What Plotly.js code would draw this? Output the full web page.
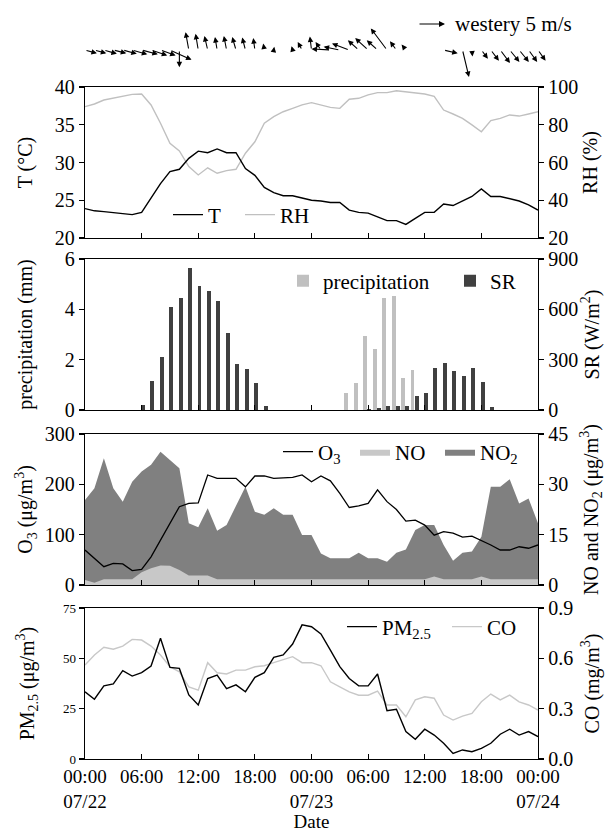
<!DOCTYPE html>
<html>
<head>
<meta charset="utf-8">
<script src="https://cdn.plot.ly/plotly-3.0.1.min.js"></script>
<style>html,body{margin:0;padding:0;background:#fff;}#chart{width:609px;height:832px;}</style>
</head>
<body>
<div id="chart"></div>
<script>
// ---------------- data (hourly, 00:00 07/22 .. 00:00 07/24) ----------------
const hours = [0,1,2,3,4,5,6,7,8,9,10,11,12,13,14,15,16,17,18,19,20,21,22,23,24,
               25,26,27,28,29,30,31,32,33,34,35,36,37,38,39,40,41,42,43,44,45,46,47,48];
const tickHours = [0,6,12,18,24,30,36,42,48];
const tickText = ['00:00<br>07/22','06:00','12:00','18:00','00:00<br>07/23','06:00','12:00','18:00','00:00<br>07/24'];

const T  = [23.9,23.6,23.5,23.35,23.2,23.1,23.4,25.3,27.2,28.8,29.1,30.55,31.5,31.3,31.8,31.3,31.3,29.2,28.3,26.7,26.0,25.6,25.6,25.3,25.0,
            24.9,24.7,24.7,23.7,23.4,23.3,22.8,22.3,22.3,21.8,22.6,23.4,23.4,24.5,24.3,24.9,25.5,26.5,25.5,25.5,25.2,24.9,24.4,23.7];
const RH = [89.6,91,93.1,94,95.2,96.1,96.3,90.5,80.8,70.2,66.1,57.8,53.4,57.2,54.3,55.7,56.4,64.9,71,80.8,84.3,86.9,88.7,90.5,91.7,
            90.5,89.2,88.7,93.5,94,95.8,97,97,98,97.5,97,96.3,95,87.8,85.7,83.4,79.9,76.3,82.2,83.4,85.2,84.6,85.7,86.9];

const precip = [0,0,0,0,0,0,0,0,0,0,0,0,0,0,0,0,0,0,0,0,0,0,0,0,0,
                0,0,0,0.67,1.09,2.96,2.41,4.45,4.54,1.29,1.59,0,0,0,0,0,0,0,0,0,0,0,0,0];
const SR = [0,0,0,0,0,0,30,170,318,614,665,845,740,712,647,460,272,247,158,22,0,0,0,0,0,
            0,0,0,0,0,5,10,22,22,25,81,100,253,278,233,200,249,168,16,0,0,0,0,0];

const O3  = [69.5,53,36.4,43,42,28.5,31,56,89,122.6,155.6,162,163,218.6,212,212,212,195,216.6,216.6,212,213,214,218.6,205,
             216.6,207,182,154,157,162,189,165.6,150,127,129,119,99,106,103,95,97,89,79.5,69.5,69.5,76,73,79.5];
const NO  = [1.5,0.7,1.7,1.7,1.7,1.7,3.8,5.0,5.8,5.7,4.5,2.8,2.8,2.8,1.7,1.7,1.7,1.7,1.7,1.7,1.7,1.7,1.7,1.7,1.7,
             1.7,1.7,1.7,1.7,1.7,1.7,1.7,1.7,1.7,1.7,1.7,1.7,2.5,1.7,1.7,1.7,1.7,2.5,1.7,1.7,1.7,1.7,1.7,1.7];
const NO2 = [25.3,28.8,37.8,28.8,24.8,30.8,33.8,35.8,39.7,37.2,34.8,18.4,17.2,22.9,16.2,17.9,23.8,29.3,21.8,20.9,22.9,20.9,20.9,14.9,14.9,
             9.4,8.0,8.0,8.0,9.6,8.0,8.0,6.9,9.6,10.6,16.4,17.9,17.9,11.9,7.2,9.6,10.0,14.4,29.3,29.3,31.5,24.3,25.8,18.4];

const PM25 = [33.4,29.7,36.3,37.3,43.9,41.2,42.9,46.2,60,45.5,45,31.8,26.8,40,41.7,35,36.8,33.4,40.6,42.9,50.5,51.7,57.1,66.6,65.7,
              62.1,54.1,45.9,40,36.3,36.3,42.2,24,24.7,13.6,9.8,14.8,11.9,7.8,2.8,4.5,3.6,5.3,7.8,12.3,14.8,11.9,13.6,11.1];
const CO   = [0.56,0.62,0.666,0.654,0.673,0.713,0.709,0.673,0.62,0.55,0.52,0.43,0.41,0.574,0.514,0.507,0.53,0.53,0.55,0.556,0.574,0.594,0.61,0.574,0.574,
              0.556,0.46,0.43,0.40,0.38,0.38,0.405,0.322,0.322,0.252,0.352,0.371,0.362,0.262,0.232,0.256,0.272,0.341,0.387,0.352,0.381,0.341,0.322,0.292];

// wind components (m/s): u eastward, v northward
const windU = [2.2,2.2,2.4,2.4,2.6,2.8,3.0,3.0,2.8,4.0,0.0,-0.6,-0.5,-0.6,-0.4,-0.5,-0.7,-0.6,-0.3,-0.2,0.1,0.1,-0.2,-0.8,-0.3,
               -1.0,-3.5,-3.0,-3.2,-2.0,-2.4,-2.0,-3.0,-1.2,-0.8,-0.2,0.1,0.1,2.6,0.3,1.2,0.1,1.2,1.5,1.8,1.8,1.8,1.6,1.4];
const windV = [-0.6,-0.6,-0.7,-0.6,-0.7,-0.8,-0.8,-1.0,-1.0,-1.8,-3.2,3.3,3.0,2.6,2.4,2.6,2.4,2.3,2.2,1.2,0.6,0.5,0.7,1.5,2.5,
               1.5,0.2,0.6,1.2,1.8,2.2,1.8,4.0,1.6,1.0,0.5,-0.4,-0.5,-0.6,-0.5,-5.0,-1.2,-1.6,-2.0,-2.4,-2.2,-2.2,-2.2,-2.0];
const windRefSpeed = 5;

// ---------------- styling ----------------
const FONT = 'Liberation Serif, Times New Roman, serif';
const PX_PER_MS = 5.4;
const H = 759; // paper height in px (832 - bottom margin)
const dom = (top, bottom) => [(H - bottom) / H, (H - top) / H];
const D1 = dom(87, 238), D2 = dom(259, 410), D3 = dom(434, 585), D4 = dom(608, 759);
const windBaseY = (H - 50) / H;

const yBase = {showgrid:false, zeroline:false, showline:true, linecolor:'#000', linewidth:1.3,
  ticks:'outside', ticklen:5, tickwidth:1.2, tickcolor:'#000',
  tickfont:{family:FONT, size:20, color:'#000'}, fixedrange:true};
const xBase = {showgrid:false, zeroline:false, showline:true, mirror:true, linecolor:'#000', linewidth:1.3,
  ticks:'inside', ticklen:5, tickwidth:1.2, tickcolor:'#000', range:[0,48], tickmode:'array',
  tickvals:tickHours, ticktext:tickText, tickfont:{family:FONT, size:19, color:'#000'}, fixedrange:true};
const tf = (t, s) => ({text:t, font:{family:FONT, size:20, color:'#000'}, standoff:s});

const traces = [
  // panel 1
  {x:hours, y:RH, type:'scatter', mode:'lines', name:'RH', xaxis:'x', yaxis:'y', line:{color:'#c0c0c0', width:1.4}, legend:'legend', legendrank:2},
  {x:hours, y:T, type:'scatter', mode:'lines', name:'T', xaxis:'x', yaxis:'y2', line:{color:'#000', width:1.4}, legend:'legend', legendrank:1, legendwidth:27},
  // panel 2
  {x:hours, y:precip, type:'bar', name:'precipitation', xaxis:'x2', yaxis:'y3', marker:{color:'#c0c0c0', line:{width:0}}, width:0.42, offset:-0.51, legend:'legend2', legendrank:1, legendwidth:122},
  {x:hours, y:SR, type:'bar', name:'SR', xaxis:'x2', yaxis:'y4', marker:{color:'#404040', line:{width:0}}, width:0.42, offset:-0.08, legend:'legend2', legendrank:2},
  // panel 3
  {x:hours, y:NO2, type:'scatter', mode:'lines', fill:'tozeroy', name:'NO<sub>2</sub>', xaxis:'x3', yaxis:'y5', line:{width:0, color:'#808080'}, fillcolor:'#808080', legend:'legend3', legendrank:3},
  {x:hours, y:NO, type:'scatter', mode:'lines', fill:'tozeroy', name:'NO', xaxis:'x3', yaxis:'y5', line:{width:0, color:'#c8c8c8'}, fillcolor:'#c8c8c8', legend:'legend3', legendrank:2, legendwidth:40},
  {x:hours, y:O3, type:'scatter', mode:'lines', name:'O<sub>3</sub>', xaxis:'x3', yaxis:'y6', line:{color:'#000', width:1.3}, legend:'legend3', legendrank:1, legendwidth:32},
  // panel 4
  {x:hours, y:CO, type:'scatter', mode:'lines', name:'CO', xaxis:'x4', yaxis:'y7', line:{color:'#c8c8c8', width:1.4}, legend:'legend4', legendrank:2},
  {x:hours, y:PM25, type:'scatter', mode:'lines', name:'PM<sub>2.5</sub>', xaxis:'x4', yaxis:'y8', line:{color:'#000', width:1.4}, legend:'legend4', legendrank:1, legendwidth:60}
];

// wind arrows: tail sits at the hour, head points along (u, v)
const annotations = hours.map((h, i) => ({
  xref:'x', yref:'paper', x:h, y:windBaseY,
  xshift: windU[i] * PX_PER_MS, yshift: windV[i] * PX_PER_MS,
  ax: -windU[i] * PX_PER_MS, ay: windV[i] * PX_PER_MS, axref:'pixel', ayref:'pixel',
  text:'', showarrow:true, arrowhead:2, arrowsize:1.0, arrowwidth:1.1, arrowcolor:'#000', standoff:0, startstandoff:0
}));
const refY = (H - 24) / H;
annotations.push({xref:'paper', yref:'paper', x:(418 - 85) / 453, y:refY,
  xshift: windRefSpeed * PX_PER_MS, ax: -windRefSpeed * PX_PER_MS, ay:0, axref:'pixel', ayref:'pixel',
  text:'', showarrow:true, arrowhead:2, arrowsize:1.0, arrowwidth:1.2, arrowcolor:'#000', standoff:0, startstandoff:0});
annotations.push({xref:'paper', yref:'paper', x:(453 - 85) / 453, y:refY, xanchor:'left', yanchor:'middle',
  text:'westery ' + windRefSpeed + ' m/s', showarrow:false, font:{family:FONT, size:21, color:'#000'}});

const legBase = {orientation:'h', bgcolor:'rgba(0,0,0,0)', borderwidth:0, yanchor:'middle', xanchor:'left',
  font:{family:FONT, size:21, color:'#000'}, traceorder:'normal', itemwidth:30, tracegroupgap:0};

const layout = {
  width:609, height:832, margin:{l:85, r:71, t:0, b:73},
  paper_bgcolor:'#fff', plot_bgcolor:'rgba(0,0,0,0)', showlegend:true,
  font:{family:FONT, size:20, color:'#000'},
  xaxis:  Object.assign({}, xBase, {anchor:'y', showticklabels:false}),
  xaxis2: Object.assign({}, xBase, {anchor:'y3', showticklabels:false}),
  xaxis3: Object.assign({}, xBase, {anchor:'y5', showticklabels:false}),
  xaxis4: Object.assign({}, xBase, {anchor:'y7', showticklabels:true, title:{text:'Date', font:{family:FONT, size:19, color:'#000'}, standoff:6}}),
  yaxis:  Object.assign({}, yBase, {domain:D1, anchor:'x', side:'right', range:[20,100], dtick:20, tick0:20, title:tf('RH (%)', 5)}),
  yaxis2: Object.assign({}, yBase, {overlaying:'y', anchor:'x', side:'left', range:[20,40], dtick:5, tick0:20, title:tf('T (°C)', 16)}),
  yaxis3: Object.assign({}, yBase, {domain:D2, anchor:'x2', side:'left', range:[0,6], dtick:2, title:tf('precipitation (mm)', 26)}),
  yaxis4: Object.assign({}, yBase, {overlaying:'y3', anchor:'x2', side:'right', range:[0,900], dtick:300, title:tf('SR (W/m<sup>2</sup>)', 5)}),
  yaxis5: Object.assign({}, yBase, {domain:D3, anchor:'x3', side:'right', range:[0,45], dtick:15, title:tf('NO and NO<sub>2</sub> (μg/m<sup>3</sup>)', 16)}),
  yaxis6: Object.assign({}, yBase, {overlaying:'y5', anchor:'x3', side:'left', range:[0,300], dtick:100, title:tf('O<sub>3</sub> (μg/m<sup>3</sup>)', 6)}),
  yaxis7: Object.assign({}, yBase, {domain:D4, anchor:'x4', side:'right', range:[0,0.9], dtick:0.3, tickformat:'.1f', title:tf('CO (mg/m<sup>3</sup>)', 12)}),
  yaxis8: Object.assign({}, yBase, {overlaying:'y7', anchor:'x4', side:'left', range:[0,75], dtick:25, tickfont:{family:FONT, size:13, color:'#000'}, title:tf('PM<sub>2.5</sub> (μg/m<sup>3</sup>)', 23)}),
  legend:  Object.assign({}, legBase, {x:(168 - 85) / 453, y:(H - 215) / H}),
  legend2: Object.assign({}, legBase, {x:(283 - 85) / 453, y:(H - 281) / H}),
  legend3: Object.assign({}, legBase, {x:(278 - 85) / 453, y:(H - 452) / H}),
  legend4: Object.assign({}, legBase, {x:(342 - 85) / 453, y:(H - 627) / H}),
  annotations: annotations,
  bargap:0
};

Plotly.newPlot('chart', traces, layout, {staticPlot:true, displayModeBar:false});
</script>
</body>
</html>
